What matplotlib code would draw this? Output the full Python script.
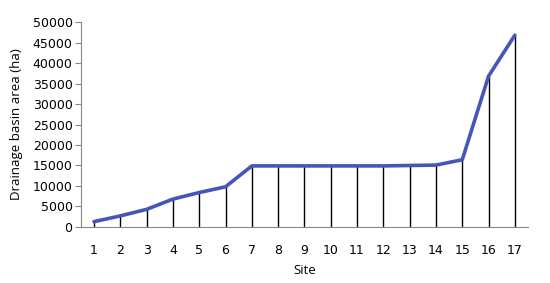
import numpy as np
import matplotlib.pyplot as plt

sites = [str(i) for i in range(1, 18)]
area = [1300, 2700, 4300, 6800, 8400, 9800, 14900, 14900, 14900, 14900,
        14900, 14900, 15000, 15100, 16400, 36800, 46800]
yticks = [0, 5000, 10000, 15000, 20000, 25000, 30000, 35000, 40000, 45000, 50000]

plt.rcParams['font.family'] = ['DejaVu Sans']

fig = plt.figure(figsize=(5.5, 2.83), dpi=100)
ax = fig.add_axes([0.147, 0.198, 0.813, 0.724])

x = np.arange(1, len(sites) + 1)
ax.vlines(x, 0, area, color='black', linewidth=1)
ax.plot(x, area, color='#4656b8', linewidth=2.6, solid_capstyle='round', zorder=3)

ax.set_xlim(0.5, len(sites) + 0.5)
ax.set_ylim(0, 50000)
ax.set_xticks(x)
ax.set_xticklabels(sites)
ax.set_yticks(yticks)
ax.tick_params(axis='x', length=0, pad=12, labelsize=9)
ax.tick_params(axis='y', length=4, width=0.8, color='#888888', labelsize=9, pad=2)

for s in ['top', 'right']:
    ax.spines[s].set_visible(False)
for s in ['left', 'bottom']:
    ax.spines[s].set_color('#888888')
    ax.spines[s].set_linewidth(0.8)

ax.set_xlabel('Site', fontsize=9.5, family='Open Sans', labelpad=5)
ax.set_ylabel('Drainage basin area (ha)', fontsize=9.5, family='Open Sans')
ax.yaxis.set_label_coords(-0.13, 0.5)

fig.savefig('out.png', dpi=100)
